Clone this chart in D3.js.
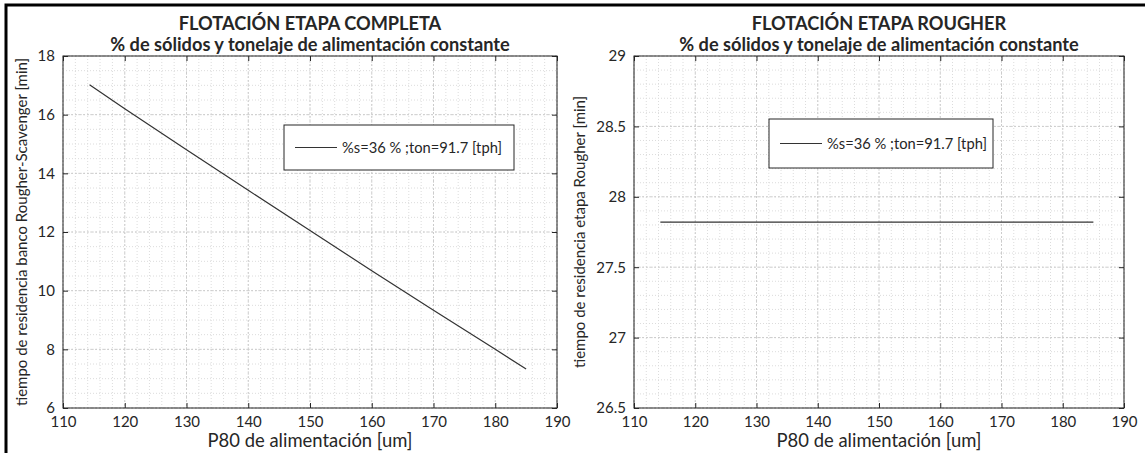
<!DOCTYPE html>
<html><head><meta charset="utf-8">
<script src="https://cdn.jsdelivr.net/npm/d3@7"></script>
<style>
html,body{margin:0;padding:0;background:#fff;}
svg{display:block;}
text{font-family:Lato,"Open Sans",sans-serif;fill:#262626;}
</style></head><body>
<svg id="c" width="1145" height="453"></svg>
<script>
// ---- data ----
const p80Left = [114.3, 120, 130, 140, 150, 160, 170, 180, 185];
const tResLeft = [17.02, 16.2, 14.8, 13.42, 12.05, 10.68, 9.33, 8.0, 7.33];
const p80Right = [114.3, 185];
const tResRight = [27.82, 27.82];
const xTicks = [110, 120, 130, 140, 150, 160, 170, 180, 190];
const yTicksLeft = [6, 8, 10, 12, 14, 16, 18];
const yTicksRight = [26.5, 27, 27.5, 28, 28.5, 29];
const legendLabel = "%s=36 % ;ton=91.7 [tph]";

const svg = d3.select("#c");
svg.append("path").attr("d","M6,453 V5 H1145").attr("fill","none").attr("stroke","#000").attr("stroke-width",3);

// size a text so its rendered width is close to a target width
function fitWidth(sel, target){
  const fs = +sel.attr("font-size");
  const w = sel.node().getComputedTextLength();
  if (w > 0) sel.attr("font-size", (fs*target/w).toFixed(2));
  return +sel.attr("font-size");
}

function panel(o){
  const g = svg.append("g");
  const x = d3.scaleLinear().domain([110,190]).range([o.x0,o.x1]);
  const y = d3.scaleLinear().domain(o.ydom).range([o.y1,o.y0]);
  const xMinor = d3.range(110,190.001,2);
  const yMinor = d3.range(o.ydom[0],o.ydom[1]+1e-9,o.yMinorStep);
  g.append("g").selectAll("line").data(xMinor).join("line")
    .attr("x1",d=>x(d)).attr("x2",d=>x(d)).attr("y1",o.y0).attr("y2",o.y1)
    .attr("stroke","#dcdcdc").attr("stroke-width",1).attr("stroke-dasharray","1,2");
  g.append("g").selectAll("line").data(yMinor).join("line")
    .attr("y1",d=>y(d)).attr("y2",d=>y(d)).attr("x1",o.x0).attr("x2",o.x1)
    .attr("stroke","#dcdcdc").attr("stroke-width",1).attr("stroke-dasharray","1,2");
  g.append("g").selectAll("line").data(xTicks).join("line")
    .attr("x1",d=>x(d)).attr("x2",d=>x(d)).attr("y1",o.y0).attr("y2",o.y1)
    .attr("stroke","#cccccc").attr("stroke-width",1).attr("stroke-dasharray","2,2");
  g.append("g").selectAll("line").data(o.yticks).join("line")
    .attr("y1",d=>y(d)).attr("y2",d=>y(d)).attr("x1",o.x0).attr("x2",o.x1)
    .attr("stroke","#cccccc").attr("stroke-width",1).attr("stroke-dasharray","2,2");
  const ax = (axis, tr) => {
    const a = g.append("g").attr("transform",tr).call(axis);
    a.select(".domain").remove();
    a.selectAll("line").attr("stroke","#262626");
    a.selectAll("text").attr("font-family","Lato").attr("font-size",o.tickFs).attr("fill","#404040");
    return a;
  };
  ax(d3.axisBottom(x).tickValues(xTicks).tickSize(-5).tickPadding(8).tickFormat(d3.format("d")), `translate(0,${o.y1})`);
  ax(d3.axisTop(x).tickValues(xTicks).tickSize(-5).tickFormat(""), `translate(0,${o.y0})`);
  ax(d3.axisLeft(y).tickValues(o.yticks).tickSize(-5).tickPadding(8).tickFormat(o.fmt), `translate(${o.x0},0)`);
  ax(d3.axisRight(y).tickValues(o.yticks).tickSize(-5).tickFormat(""), `translate(${o.x1},0)`);
  g.append("rect").attr("x",o.x0).attr("y",o.y0).attr("width",o.x1-o.x0).attr("height",o.y1-o.y0)
    .attr("fill","none").attr("stroke","#262626").attr("stroke-width",1);
  const line = d3.line().x(d=>x(d[0])).y(d=>y(d[1]));
  g.append("path").datum(o.xs.map((v,i)=>[v,o.ys[i]])).attr("d",line)
    .attr("fill","none").attr("stroke","#333").attr("stroke-width",1.2);
  const cx = (o.x0+o.x1)/2;
  const t2 = g.append("text").attr("x",cx).attr("y",o.t2y).attr("text-anchor","middle").attr("font-weight","bold").attr("font-size",14).text(o.title2);
  const tfs = fitWidth(t2, o.title2W);
  g.append("text").attr("x",cx).attr("y",o.t1y).attr("text-anchor","middle").attr("font-weight","bold").attr("font-size",tfs).text(o.title1);
  const xl = g.append("text").attr("x",cx).attr("y",o.xlabY).attr("text-anchor","middle").attr("font-size",16).text("P80 de alimentación [um]");
  fitWidth(xl, o.xlabW);
  g.append("text").attr("transform",`translate(${o.ylabX},${(o.y0+o.y1)/2}) rotate(-90)`).attr("text-anchor","middle").attr("font-size",o.ylabFs).text(o.ylab);
  const L = o.leg;
  g.append("rect").attr("x",L.x).attr("y",L.y).attr("width",L.w).attr("height",L.h).attr("fill","#fff").attr("stroke","#262626");
  g.append("line").attr("x1",L.x+11).attr("x2",L.x+53).attr("y1",L.y+L.h/2).attr("y2",L.y+L.h/2).attr("stroke","#333").attr("stroke-width",1.2);
  const lt = g.append("text").attr("x",L.x+58).attr("y",L.y+L.h/2+5).attr("font-size",14).text(legendLabel);
  fitWidth(lt, 160);
}

const common = {y0:56, y1:408, tickFs:15, ylabFs:15, t1y:30, t2y:51, xlabY:447, title2W:400, xlabW:205};
panel(Object.assign({}, common, {
  x0:63, x1:557, ydom:[6,18], yticks:yTicksLeft, yMinorStep:0.5, fmt:d3.format("d"),
  xs:p80Left, ys:tResLeft, title1:"FLOTACIÓN ETAPA COMPLETA",
  title2:"% de sólidos y tonelaje de alimentación constante",
  ylab:"tiempo de residencia banco Rougher-Scavenger [min]", ylabX:27,
  leg:{x:284,y:125,w:230,h:45}
}));
panel(Object.assign({}, common, {
  x0:634, x1:1124, ydom:[26.5,29], yticks:yTicksRight, yMinorStep:0.1, fmt:d=>String(d),
  xs:p80Right, ys:tResRight, title1:"FLOTACIÓN ETAPA ROUGHER",
  title2:"% de sólidos y tonelaje de alimentación constante",
  ylab:"tiempo de residencia etapa Rougher [min]", ylabX:585,
  leg:{x:769,y:119,w:224,h:49}
}));
</script></body></html>
